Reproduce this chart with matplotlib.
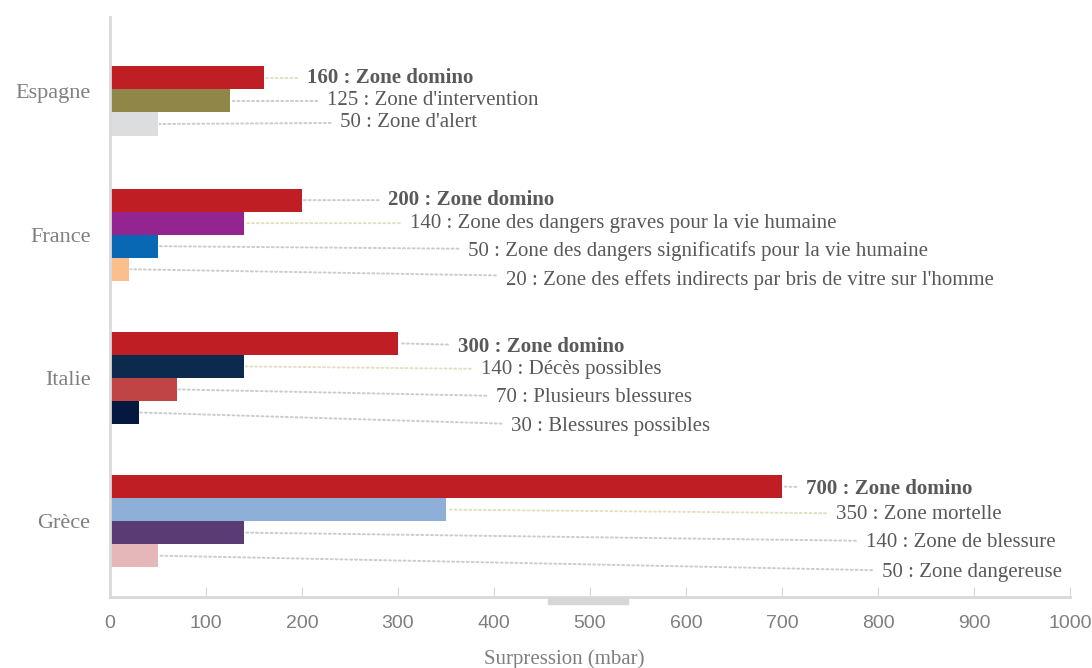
import matplotlib.pyplot as plt
from matplotlib.patches import Rectangle

# data (top to bottom as shown)
countries = ["Espagne", "France", "Italie", "Grèce"]

espagne_vals = [160, 125, 50]
espagne_names = ["Zone domino", "Zone d'intervention", "Zone d'alert"]

france_vals = [200, 140, 50, 20]
france_names = ["Zone domino",
                "Zone des dangers graves pour la vie humaine",
                "Zone des dangers significatifs pour la vie humaine",
                "Zone des effets indirects par bris de vitre sur l'homme"]

italie_vals = [300, 140, 70, 30]
italie_names = ["Zone domino", "Décès possibles", "Plusieurs blessures", "Blessures possibles"]

grece_vals = [700, 350, 140, 50]
grece_names = ["Zone domino", "Zone mortelle", "Zone de blessure", "Zone dangereuse"]

ticks = [0, 100, 200, 300, 400, 500, 600, 700, 800, 900, 1000]

# styling per group
groups = [
    dict(vals=espagne_vals, names=espagne_names,
         colors=["#BE1E24", "#8F8647", "#DCDDDF"],
         lab_x=[205, 226, 240], lab_dy=[0, 0, -1.5],
         line_c=["#E2E0C0", "#CCCCCC", "#CCCCCC"], shift=-9.5),
    dict(vals=france_vals, names=france_names,
         colors=["#BE1E24", "#94248F", "#0868B4", "#FBBF8D"],
         lab_x=[290, 312, 373, 412], lab_dy=[0, 0, 4.5, 10.5],
         line_c=["#CCCCCC", "#E2E0C0", "#CCCCCC", "#CCCCCC"], shift=0),
    dict(vals=italie_vals, names=italie_names,
         colors=["#BE1E24", "#0B2A4E", "#C04443", "#05183F"],
         lab_x=[362, 386, 402, 418], lab_dy=[3.5, 3.5, 8.5, 14.5],
         line_c=["#CCCCCC", "#E2E0C0", "#CCCCCC", "#CCCCCC"], shift=0),
    dict(vals=grece_vals, names=grece_names,
         colors=["#BE1E24", "#8EB0D8", "#5A3B74", "#E6B7B8"],
         lab_x=[725, 756, 787, 804], lab_dy=[2.5, 4.5, 9.5, 16.5],
         line_c=["#CCCCCC", "#E2E0C0", "#CCCCCC", "#CCCCCC"], shift=0),
]

px_per_unit = 143.0
bar_h = 23.0 / px_per_unit
text_col = "#595959"

fig = plt.figure(figsize=(10.92, 6.68), dpi=100)
ax = fig.add_axes([110 / 1092, 71 / 668, 960 / 1092, 580 / 668])

n = len(countries)
for i, (country, g) in enumerate(zip(countries, groups)):
    cy = n - 1 - i
    nb = len(g["vals"])
    for k, v in enumerate(g["vals"]):
        by = cy + ((nb - 1) / 2 - k) * bar_h + g["shift"] / px_per_unit
        ax.barh(by, v, height=bar_h, color=g["colors"][k], edgecolor="none")
        bold = g["names"][k] == "Zone domino"
        ax.annotate(f"{v} : {g['names'][k]}",
                    xy=(v, by), xytext=(g["lab_x"][k], by - g["lab_dy"][k] / px_per_unit),
                    textcoords="data", ha="left", va="center",
                    fontsize=15, color=text_col, family="Liberation Serif",
                    fontweight="bold" if bold else "normal",
                    arrowprops=dict(arrowstyle="-", linestyle=(0, (1, 1.5)),
                                    color=g["line_c"][k], lw=1.4,
                                    shrinkA=5, shrinkB=1))

ax.set_xlim(0, 1000)
ax.set_ylim(-0.53, 3.52)
ax.set_yticks(range(n))
ax.set_yticklabels(countries[::-1], family="Liberation Serif", fontsize=16, color="#7F7F7F")
ax.set_xticks(ticks)
ax.set_xticklabels([str(t) for t in ticks], family="Liberation Sans", fontsize=14, color="#7F7F7F")
ax.tick_params(axis="y", length=0, pad=14)
ax.tick_params(axis="x", direction="in", length=7, color="#D9D9D9", pad=13)

for s in ["top", "right"]:
    ax.spines[s].set_visible(False)
ax.spines["left"].set_color("#D9D9D9")
ax.spines["left"].set_linewidth(2)
ax.spines["bottom"].set_color("#D9D9D9")
ax.spines["bottom"].set_linewidth(2)

ax.set_xlabel("Surpression (mbar)", family="Liberation Serif", fontsize=15,
              color="#7F7F7F")
ax.xaxis.set_label_coords(0.473, -0.09)

# small grey mark below the axis
fig.patches.append(Rectangle((548 / 1092, 1 - 604 / 668), 80 / 1092, 6 / 668,
                             transform=fig.transFigure, color="#D6D6D6", zorder=0))

fig.savefig("out.png", dpi=100)
